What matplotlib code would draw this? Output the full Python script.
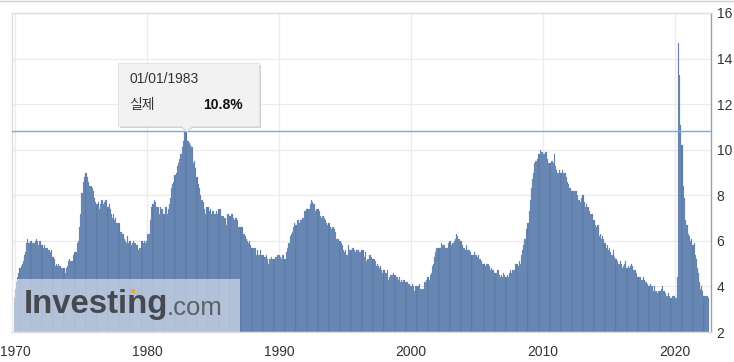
import numpy as np
import matplotlib.pyplot as plt
from matplotlib.patches import Rectangle, Polygon

# US unemployment rate, monthly (%), Dec 1969 .. Jul 2022
START = (1969, 12)
rate = [3.5]
rate += [3.9, 4.2, 4.4, 4.6, 4.8, 4.9, 5.0, 5.1, 5.4, 5.5, 5.9, 6.1]  # 1970
rate += [5.9, 5.9, 6.0, 5.9, 5.9, 5.9, 6.0, 6.1, 6.0, 5.8, 6.0, 6.0]  # 1971
rate += [5.8, 5.7, 5.8, 5.7, 5.7, 5.7, 5.6, 5.6, 5.5, 5.6, 5.3, 5.2]  # 1972
rate += [4.9, 5.0, 4.9, 5.0, 4.9, 4.9, 4.8, 4.8, 4.8, 4.6, 4.8, 4.9]  # 1973
rate += [5.1, 5.2, 5.1, 5.1, 5.1, 5.4, 5.5, 5.5, 5.9, 6.0, 6.6, 7.2]  # 1974
rate += [8.1, 8.1, 8.6, 8.8, 9.0, 8.8, 8.6, 8.4, 8.4, 8.4, 8.3, 8.2]  # 1975
rate += [7.9, 7.7, 7.6, 7.7, 7.4, 7.6, 7.8, 7.8, 7.6, 7.7, 7.8, 7.8]  # 1976
rate += [7.5, 7.6, 7.4, 7.2, 7.0, 7.2, 6.9, 7.0, 6.8, 6.8, 6.8, 6.4]  # 1977
rate += [6.4, 6.3, 6.3, 6.1, 6.0, 5.9, 6.2, 5.9, 6.0, 5.8, 5.9, 6.0]  # 1978
rate += [5.9, 5.9, 5.8, 5.8, 5.6, 5.7, 5.7, 6.0, 5.9, 6.0, 5.9, 6.0]  # 1979
rate += [6.3, 6.3, 6.3, 6.9, 7.5, 7.6, 7.8, 7.7, 7.5, 7.5, 7.5, 7.2]  # 1980
rate += [7.5, 7.4, 7.4, 7.2, 7.5, 7.5, 7.2, 7.4, 7.6, 7.9, 8.3, 8.5]  # 1981
rate += [8.6, 8.9, 9.0, 9.3, 9.4, 9.6, 9.8, 9.8, 10.1, 10.4, 10.8, 10.8]  # 1982
rate += [10.4, 10.4, 10.3, 10.2, 10.1, 10.1, 9.4, 9.5, 9.2, 8.8, 8.5, 8.3]  # 1983
rate += [8.0, 7.8, 7.8, 7.7, 7.4, 7.2, 7.5, 7.5, 7.3, 7.4, 7.2, 7.3]  # 1984
rate += [7.3, 7.2, 7.2, 7.3, 7.2, 7.4, 7.4, 7.1, 7.1, 7.1, 7.0, 7.0]  # 1985
rate += [6.7, 7.2, 7.2, 7.1, 7.2, 7.2, 7.0, 6.9, 7.0, 7.0, 6.9, 6.6]  # 1986
rate += [6.6, 6.6, 6.6, 6.3, 6.3, 6.2, 6.1, 6.0, 5.9, 6.0, 5.8, 5.7]  # 1987
rate += [5.7, 5.7, 5.7, 5.4, 5.6, 5.4, 5.4, 5.6, 5.4, 5.4, 5.3, 5.3]  # 1988
rate += [5.4, 5.2, 5.0, 5.2, 5.2, 5.3, 5.2, 5.2, 5.3, 5.3, 5.4, 5.4]  # 1989
rate += [5.4, 5.3, 5.2, 5.4, 5.4, 5.2, 5.5, 5.7, 5.9, 5.9, 6.2, 6.3]  # 1990
rate += [6.4, 6.6, 6.8, 6.7, 6.9, 6.9, 6.8, 6.9, 6.9, 7.0, 7.0, 7.3]  # 1991
rate += [7.3, 7.4, 7.4, 7.4, 7.6, 7.8, 7.7, 7.6, 7.6, 7.3, 7.4, 7.4]  # 1992
rate += [7.3, 7.1, 7.0, 7.1, 7.1, 7.0, 6.9, 6.8, 6.7, 6.8, 6.6, 6.5]  # 1993
rate += [6.6, 6.6, 6.5, 6.4, 6.1, 6.1, 6.1, 6.0, 5.9, 5.8, 5.6, 5.5]  # 1994
rate += [5.6, 5.4, 5.4, 5.8, 5.6, 5.6, 5.7, 5.7, 5.6, 5.5, 5.6, 5.6]  # 1995
rate += [5.6, 5.5, 5.5, 5.6, 5.6, 5.3, 5.5, 5.1, 5.2, 5.2, 5.4, 5.4]  # 1996
rate += [5.3, 5.2, 5.2, 5.1, 4.9, 5.0, 4.9, 4.8, 4.9, 4.7, 4.6, 4.7]  # 1997
rate += [4.6, 4.6, 4.7, 4.3, 4.4, 4.5, 4.5, 4.5, 4.6, 4.5, 4.4, 4.4]  # 1998
rate += [4.3, 4.4, 4.2, 4.3, 4.2, 4.3, 4.3, 4.2, 4.2, 4.1, 4.1, 4.0]  # 1999
rate += [4.0, 4.1, 4.0, 3.8, 4.0, 4.0, 4.0, 4.1, 3.9, 3.9, 3.9, 3.9]  # 2000
rate += [4.2, 4.2, 4.3, 4.4, 4.3, 4.5, 4.6, 4.9, 5.0, 5.3, 5.5, 5.7]  # 2001
rate += [5.7, 5.7, 5.7, 5.9, 5.8, 5.8, 5.8, 5.7, 5.7, 5.7, 5.9, 6.0]  # 2002
rate += [5.8, 5.9, 5.9, 6.0, 6.1, 6.3, 6.2, 6.1, 6.1, 6.0, 5.8, 5.7]  # 2003
rate += [5.7, 5.6, 5.8, 5.6, 5.6, 5.6, 5.5, 5.4, 5.4, 5.5, 5.4, 5.4]  # 2004
rate += [5.3, 5.4, 5.2, 5.2, 5.1, 5.0, 5.0, 4.9, 5.0, 5.0, 5.0, 4.9]  # 2005
rate += [4.7, 4.8, 4.7, 4.7, 4.6, 4.6, 4.7, 4.7, 4.5, 4.4, 4.5, 4.4]  # 2006
rate += [4.6, 4.5, 4.4, 4.5, 4.4, 4.6, 4.7, 4.6, 4.7, 4.7, 4.7, 5.0]  # 2007
rate += [5.0, 4.9, 5.1, 5.0, 5.4, 5.6, 5.8, 6.1, 6.1, 6.5, 6.8, 7.3]  # 2008
rate += [7.8, 8.3, 8.7, 9.0, 9.4, 9.5, 9.5, 9.6, 9.8, 10.0, 9.9, 9.9]  # 2009
rate += [9.8, 9.8, 9.9, 9.9, 9.6, 9.4, 9.4, 9.5, 9.5, 9.4, 9.8, 9.3]  # 2010
rate += [9.1, 9.0, 9.0, 9.1, 9.0, 9.1, 9.0, 9.0, 9.0, 8.8, 8.6, 8.5]  # 2011
rate += [8.3, 8.3, 8.2, 8.2, 8.2, 8.2, 8.2, 8.0, 7.8, 7.8, 7.7, 7.9]  # 2012
rate += [8.0, 7.7, 7.5, 7.6, 7.5, 7.5, 7.3, 7.2, 7.2, 7.2, 6.9, 6.7]  # 2013
rate += [6.6, 6.7, 6.7, 6.2, 6.3, 6.1, 6.2, 6.1, 5.9, 5.7, 5.8, 5.6]  # 2014
rate += [5.7, 5.5, 5.4, 5.4, 5.6, 5.3, 5.2, 5.1, 5.0, 5.0, 5.1, 5.0]  # 2015
rate += [4.8, 4.9, 5.0, 5.1, 4.8, 4.9, 4.8, 4.9, 5.0, 4.9, 4.7, 4.7]  # 2016
rate += [4.7, 4.6, 4.4, 4.4, 4.4, 4.3, 4.3, 4.4, 4.3, 4.2, 4.2, 4.1]  # 2017
rate += [4.0, 4.1, 4.0, 4.0, 3.8, 4.0, 3.8, 3.8, 3.7, 3.8, 3.8, 3.9]  # 2018
rate += [4.0, 3.8, 3.8, 3.7, 3.6, 3.6, 3.7, 3.6, 3.5, 3.6, 3.6, 3.6]  # 2019
rate += [3.5, 3.5, 4.4, 14.7, 13.3, 11.1, 10.2, 8.4, 7.9, 6.9, 6.7, 6.7]  # 2020
rate += [6.3, 6.2, 6.0, 6.1, 5.8, 5.9, 5.4, 5.2, 4.8, 4.6, 4.2, 3.9]  # 2021
rate += [4.0, 3.8, 3.6, 3.6, 3.6, 3.6, 3.5]  # 2022

year_ticks = [1970, 1980, 1990, 2000, 2010, 2020]
y_ticks = [2, 4, 6, 8, 10, 12, 14, 16]

tip_date = "01/01/1983"
tip_label = "실제"
tip_value = 10.8

W, H = 734, 362


def fx(x):
    return x / W


def fy(y):
    return 1 - y / H


rate = np.array(rate)
t = START[0] + (START[1] - 1) / 12 + np.arange(len(rate)) / 12

plt.rcParams['font.family'] = ['Liberation Sans', 'DejaVu Sans']

fig = plt.figure(figsize=(W / 100, H / 100), dpi=100)
ax = fig.add_axes([fx(12), fy(332), fx(711) - fx(12), fy(13) - fy(332)])

ax.bar(t, rate - 2, bottom=2, width=1 / 12, align="edge",
       color="#5576a6", edgecolor="#8ea8cc", linewidth=0.18, zorder=2)

ax.set_xlim(1969.77, 2022.74)
ax.set_ylim(2, 16)

ax.axhline(tip_value, color="#6aaef0", linewidth=1.0, zorder=3)

ax.set_xticks(year_ticks)
ax.set_yticks(y_ticks)
ax.grid(True, color="#ebebeb", linewidth=0.9, zorder=0)
ax.set_axisbelow(True)
ax.yaxis.tick_right()
ax.tick_params(axis="both", length=0, labelsize=10, colors="#333333")
ax.tick_params(axis="y", pad=4)
ax.tick_params(axis="x", pad=9)
for s in ["top", "left", "bottom"]:
    ax.spines[s].set_color("#dddddd")
    ax.spines[s].set_linewidth(1.0)
ax.spines["right"].set_color("#a0a0a0")
ax.spines["right"].set_linewidth(1.0)

# page top border
fig.add_artist(plt.Line2D([0, 1], [fy(0.5), fy(0.5)], transform=fig.transFigure,
                          color="#cccccc", linewidth=1.0))

# tooltip with shadow and pointer
x0, y0, x1, y1 = 118, 63, 259, 126
px = 187
fig.add_artist(Rectangle((fx(x0 + 2), fy(y1 + 2)), fx(x1 - x0), fy(y0) - fy(y1),
                         transform=fig.transFigure, facecolor="#c8c8c8",
                         edgecolor="none", alpha=0.8, zorder=5))
fig.add_artist(Polygon([(fx(px - 7), fy(y1 - 0.5)), (fx(px + 7), fy(y1 - 0.5)), (fx(px), fy(y1 + 6))],
                       closed=True, transform=fig.transFigure, facecolor="#f2f2f2",
                       edgecolor="#cfcfcf", linewidth=0.8, zorder=6))
fig.add_artist(Rectangle((fx(x0), fy(y1)), fx(x1 - x0), fy(y0) - fy(y1),
                         transform=fig.transFigure, facecolor="#f2f2f2",
                         edgecolor="#e0e0e0", linewidth=0.6, zorder=6))
fig.add_artist(Polygon([(fx(px - 6.5), fy(y1 - 1)), (fx(px + 6.5), fy(y1 - 1)), (fx(px), fy(y1 + 5))],
                       closed=True, transform=fig.transFigure, facecolor="#f2f2f2",
                       edgecolor="none", zorder=7))
fig.text(fx(129), fy(79), tip_date, fontsize=10, color="#333333",
         ha="left", va="center", zorder=8)
fig.text(fx(129), fy(105), tip_label, fontsize=10, color="#333333",
         family=["Noto Sans CJK KR", "DejaVu Sans"], ha="left", va="center", zorder=8)
fig.text(fx(243), fy(105), f"{tip_value}%", fontsize=10, fontweight="bold",
         color="#111111", ha="right", va="center", zorder=8)

# Investing.com watermark
fig.add_artist(Rectangle((fx(12), fy(332)), fx(240 - 12), fy(279) - fy(332),
                         transform=fig.transFigure, facecolor="white",
                         edgecolor="none", alpha=0.5, zorder=4))
fig.text(fx(24), fy(305), "Investing", fontsize=23.7, fontweight="bold",
         color="#464a50", ha="left", va="center", zorder=5)
fig.text(fx(167), fy(308), ".com", fontsize=18.5, color="#5d6167",
         ha="left", va="center", zorder=5)
fig.add_artist(Rectangle((fx(131), fy(293)), fx(4), fy(289) - fy(293),
                         transform=fig.transFigure, facecolor="#f0a830",
                         edgecolor="none", zorder=6))

fig.savefig("out.png", dpi=100)
